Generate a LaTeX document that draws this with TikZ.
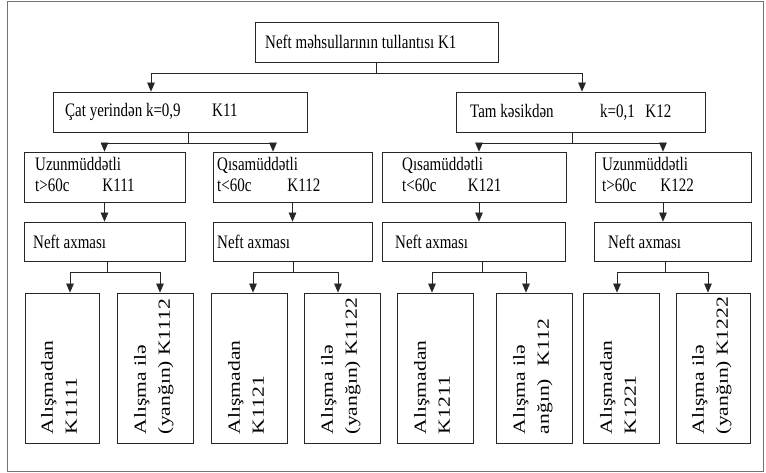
\documentclass[tikz,border=0pt]{standalone}
\usepackage{fontspec}
\setmainfont{Liberation Serif}
\usepackage{graphicx}
\usetikzlibrary{arrows.meta}
% text is set tall and narrow throughout the chart
\newcommand{\tallset}[1]{\scalebox{1}[1.27]{#1}}
\newcommand{\twolines}[2]{\begin{tabular}{@{}l@{}}#1\\#2\end{tabular}}
\newcommand{\leaflabel}[2]{\tallset{\rotatebox{90}{\twolines{#1}{#2}}}}

\begin{document}
\begin{tikzpicture}[x=1pt,y=-1pt,
  box/.style={draw=black!85, line width=0.7pt, inner sep=0pt},
  link/.style={draw=black!85, line width=0.7pt},
  arr/.style={link, -{Triangle[length=9pt,width=7.5pt]}},
  txt/.style={inner sep=0pt, anchor=west, font=\fontsize{15}{16.5}\selectfont},
  leaftxt/.style={inner sep=0pt, anchor=south, font=\fontsize{17}{24}\selectfont},
  leaf/.style={box, minimum width=76pt, minimum height=150pt}]
\useasboundingbox (0,0) rectangle (766,473);
\draw[black!55, line width=0.5pt] (7,1) rectangle (763,471);

% ---- level 1
\node[box, minimum width=243pt, minimum height=40pt] (k1) at (376.5,42) {};
\node[txt] (t1) at (265,42) {\tallset{Neft məhsullarının tullantısı K1}};

% ---- level 2
\node[box, minimum width=254pt, minimum height=40pt] (k11) at (180,112) {};
\node[box, minimum width=249pt, minimum height=40pt] (k12) at (580.5,112) {};
\node[txt] (t11) at (65,112) {\tallset{Çat yerindən k=0,9\hspace{2.1em}K11}};
\node[txt] (t12) at (470,112) {\tallset{Tam kəsikdən\hspace{3.1em}k=0,1\hspace{0.7em}K12}};

% ---- level 3
\node[box, minimum width=161pt, minimum height=50pt] (k111) at (104.5,177) {};
\node[box, minimum width=159pt, minimum height=50pt] (k112) at (292.5,177) {};
\node[box, minimum width=184pt, minimum height=50pt] (k121) at (474,177) {};
\node[box, minimum width=156pt, minimum height=50pt] (k122) at (673,177) {};
\node[txt] (t111) at (35,177) {\tallset{\twolines{Uzunmüddətli}{t>60c\hspace{2.2em}K111}}};
\node[txt] (t112) at (217,177) {\tallset{\twolines{Qısamüddətli}{t<60c\hspace{2.4em}K112}}};
\node[txt] (t121) at (402,177) {\tallset{\twolines{Qısamüddətli}{t<60c\hspace{2.1em}K121}}};
\node[txt] (t122) at (602,177) {\tallset{\twolines{Uzunmüddətli}{t>60c\hspace{1.6em}K122}}};

% ---- level 4
\node[box, minimum width=161pt, minimum height=39pt] (n1) at (104.5,241.5) {};
\node[box, minimum width=159pt, minimum height=39pt] (n2) at (292.5,241.5) {};
\node[box, minimum width=183pt, minimum height=39pt] (n3) at (473.5,241.5) {};
\node[box, minimum width=157pt, minimum height=39pt] (n4) at (672.5,241.5) {};
\node[txt] (tn1) at (33,241.5) {\tallset{Neft axması}};
\node[txt] (tn2) at (217,241.5) {\tallset{Neft axması}};
\node[txt] (tn3) at (395,241.5) {\tallset{Neft axması}};
\node[txt] (tn4) at (608,241.5) {\tallset{Neft axması}};

% ---- level 5 (upright boxes, text turned)
\node[leaf, minimum width=74pt] (l1) at (62,368) {};
\node[leaf] (l2) at (155,368) {};
\node[leaf] (l3) at (249,368) {};
\node[leaf] (l4) at (342,368) {};
\node[leaf] (l5) at (435,368) {};
\node[leaf] (l6) at (534,368) {};
\node[leaf] (l7) at (621,368) {};
\node[leaf, minimum width=74pt] (l8) at (713,368) {};
\node[leaftxt] (tl1) at ([xshift=-2pt,yshift=9pt]l1.south) {\leaflabel{Alışmadan}{K1111}};
\node[leaftxt] (tl2) at ([xshift=-2pt,yshift=9pt]l2.south) {\leaflabel{Alışma ilə}{(yanğın) K1112}};
\node[leaftxt] (tl3) at ([xshift=-2pt,yshift=9pt]l3.south) {\leaflabel{Alışmadan}{K1121}};
\node[leaftxt] (tl4) at ([xshift=-2pt,yshift=9pt]l4.south) {\leaflabel{Alışma ilə}{(yanğın) K1122}};
\node[leaftxt] (tl5) at ([xshift=-2pt,yshift=9pt]l5.south) {\leaflabel{Alışmadan}{K1211}};
\node[leaftxt] (tl6) at ([xshift=-2pt,yshift=9pt]l6.south) {\leaflabel{Alışma ilə}{anğın)\hspace{0.6em}K112}};
\node[leaftxt] (tl7) at ([xshift=-2pt,yshift=9pt]l7.south) {\leaflabel{Alışmadan}{K1221}};
\node[leaftxt] (tl8) at ([xshift=-2pt,yshift=9pt]l8.south) {\leaflabel{Alışma ilə}{(yanğın) K1222}};

% ---- connectors
\draw[arr] (k1.south) -- ++(0,11) -| ([xshift=-29pt]k11.north);
\draw[arr] (k1.south) -- ++(0,11) -| ([xshift=1.5pt]k12.north);

\draw[arr] ([xshift=8pt]k11.south) -- ++(0,11) -| (k111.north);
\draw[arr] ([xshift=8pt]k11.south) -- ++(0,11) -| ([xshift=-19.5pt]k112.north);
\draw[arr] ([xshift=-8.5pt]k12.south) -- ++(0,11) -| ([xshift=5pt]k121.north);
\draw[arr] ([xshift=-8.5pt]k12.south) -- ++(0,11) -| ([xshift=-10pt]k122.north);

\draw[arr] (k111.south) -- (k111.south |- n1.north);
\draw[arr] (k112.south) -- (k112.south |- n2.north);
\draw[arr] ([xshift=5pt]k121.south) -- ([xshift=5pt]k121.south |- n3.north);
\draw[arr] ([xshift=-10pt]k122.south) -- ([xshift=-10pt]k122.south |- n4.north);

\draw[arr] ([xshift=2.5pt]n1.south) -- ++(0,11) -| ([xshift=8pt]l1.north);
\draw[arr] ([xshift=2.5pt]n1.south) -- ++(0,11) -| ([xshift=5pt]l2.north);
\draw[arr] ([xshift=0.5pt]n2.south) -- ++(0,11) -| ([xshift=4pt]l3.north);
\draw[arr] ([xshift=0.5pt]n2.south) -- ++(0,11) -| ([xshift=-4pt]l4.north);
\draw[arr] ([xshift=8.5pt]n3.south) -- ++(0,11) -| ([xshift=-3pt]l5.north);
\draw[arr] ([xshift=8.5pt]n3.south) -- ++(0,11) -| ([xshift=-8pt]l6.north);
\draw[arr] ([xshift=-7.5pt]n4.south) -- ++(0,11) -| ([xshift=-4pt]l7.north);
\draw[arr] ([xshift=-7.5pt]n4.south) -- ++(0,11) -| ([xshift=-5pt]l8.north);
\end{tikzpicture}
\end{document}
